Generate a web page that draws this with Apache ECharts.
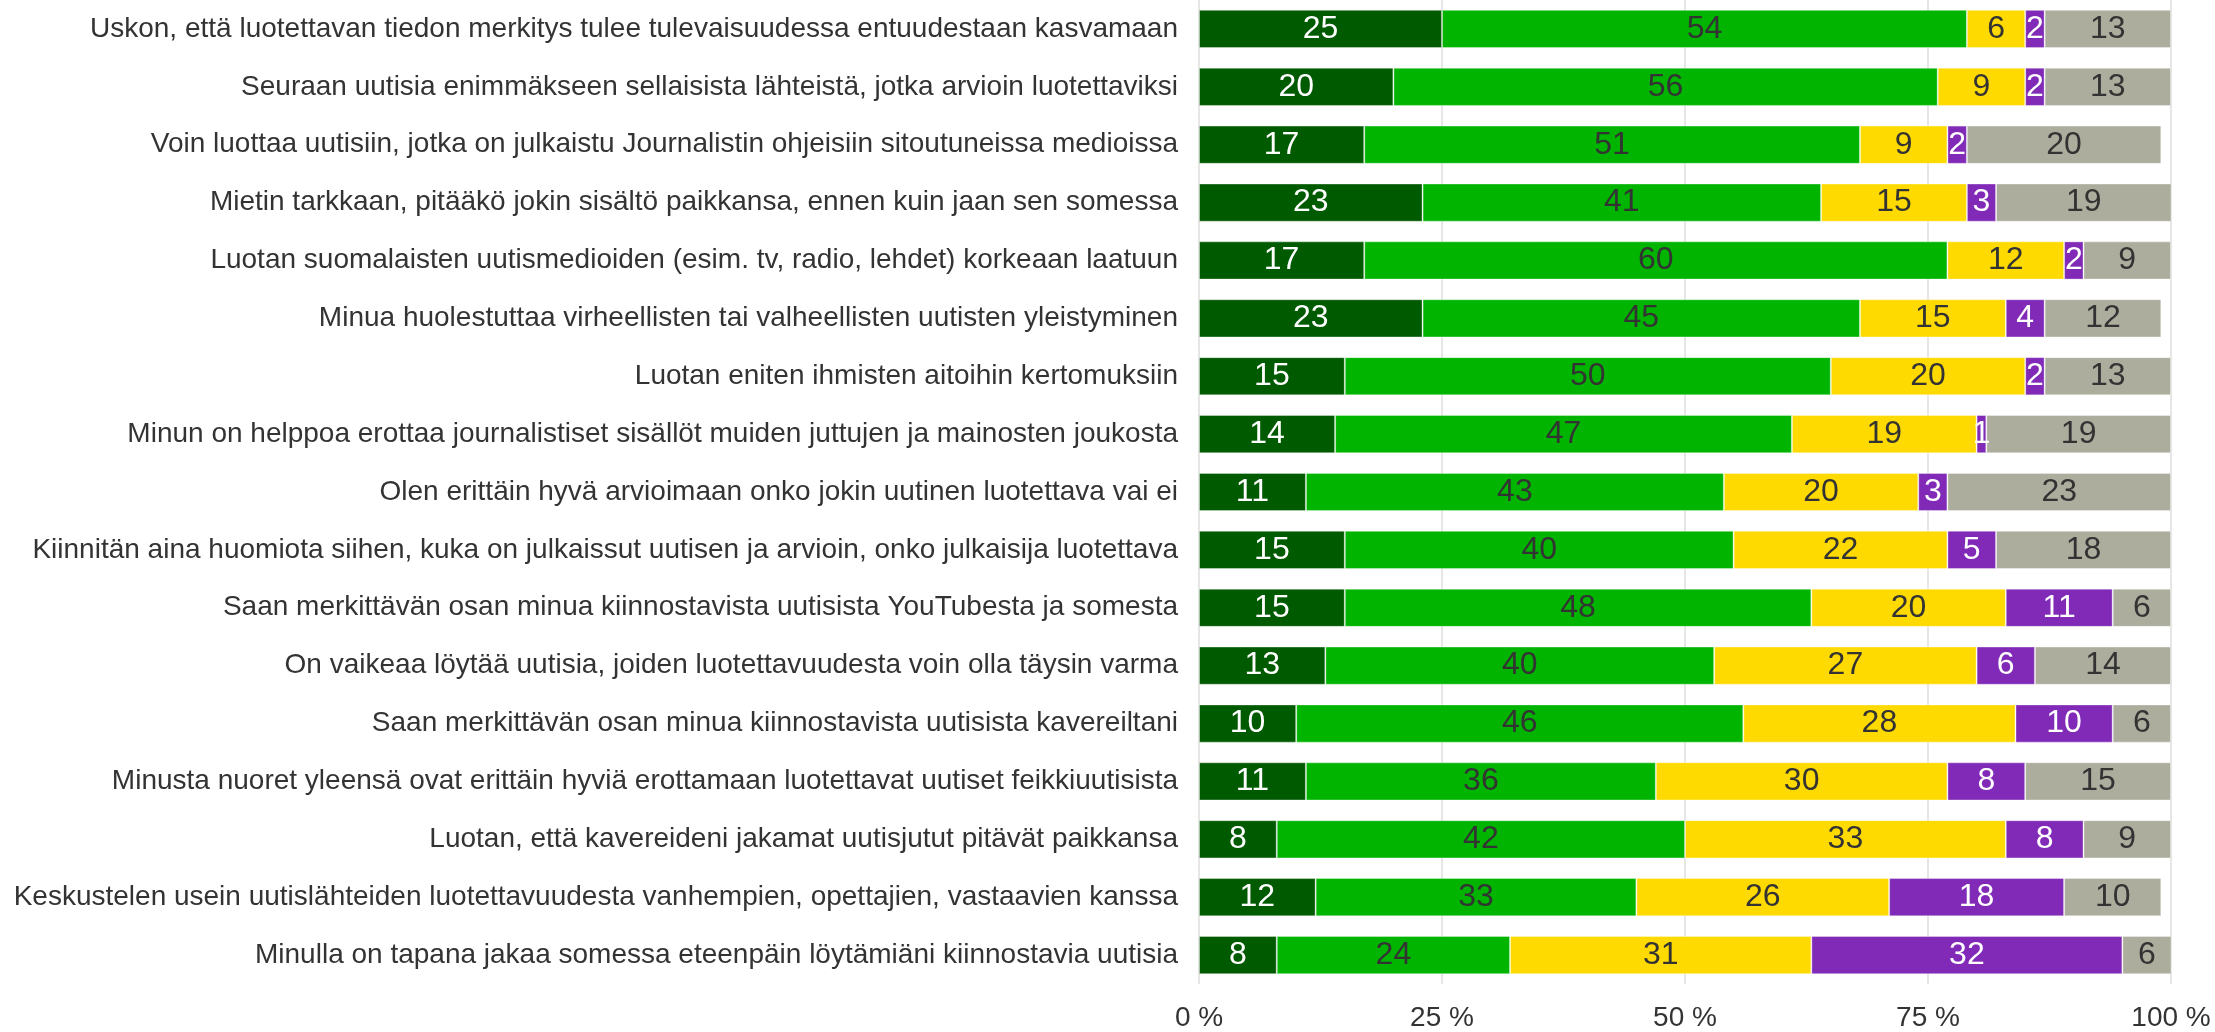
<!DOCTYPE html>
<html>
<head>
<meta charset="utf-8">
<script src="https://cdn.jsdelivr.net/npm/echarts@6/dist/echarts.min.js"></script>
<style>
  html, body { margin: 0; padding: 0; background: #fff; }
  #chart { width: 2215px; height: 1032px; }
</style>
</head>
<body>
<div id="chart"></div>
<script>
// Väittämät (ylhäältä alas)
const statements = [
  'Uskon, että luotettavan tiedon merkitys tulee tulevaisuudessa entuudestaan kasvamaan',
  'Seuraan uutisia enimmäkseen sellaisista lähteistä, jotka arvioin luotettaviksi',
  'Voin luottaa uutisiin, jotka on julkaistu Journalistin ohjeisiin sitoutuneissa medioissa',
  'Mietin tarkkaan, pitääkö jokin sisältö paikkansa, ennen kuin jaan sen somessa',
  'Luotan suomalaisten uutismedioiden (esim. tv, radio, lehdet) korkeaan laatuun',
  'Minua huolestuttaa virheellisten tai valheellisten uutisten yleistyminen',
  'Luotan eniten ihmisten aitoihin kertomuksiin',
  'Minun on helppoa erottaa journalistiset sisällöt muiden juttujen ja mainosten joukosta',
  'Olen erittäin hyvä arvioimaan onko jokin uutinen luotettava vai ei',
  'Kiinnitän aina huomiota siihen, kuka on julkaissut uutisen ja arvioin, onko julkaisija luotettava',
  'Saan merkittävän osan minua kiinnostavista uutisista YouTubesta ja somesta',
  'On vaikeaa löytää uutisia, joiden luotettavuudesta voin olla täysin varma',
  'Saan merkittävän osan minua kiinnostavista uutisista kavereiltani',
  'Minusta nuoret yleensä ovat erittäin hyviä erottamaan luotettavat uutiset feikkiuutisista',
  'Luotan, että kavereideni jakamat uutisjutut pitävät paikkansa',
  'Keskustelen usein uutislähteiden luotettavuudesta vanhempien, opettajien, vastaavien kanssa',
  'Minulla on tapana jakaa somessa eteenpäin löytämiäni kiinnostavia uutisia'
];

// Vastausjakaumat (%)
const stronglyAgree    = [25, 20, 17, 23, 17, 23, 15, 14, 11, 15, 15, 13, 10, 11,  8, 12,  8];
const somewhatAgree    = [54, 56, 51, 41, 60, 45, 50, 47, 43, 40, 48, 40, 46, 36, 42, 33, 24];
const somewhatDisagree = [ 6,  9,  9, 15, 12, 15, 20, 19, 20, 22, 20, 27, 28, 30, 33, 26, 31];
const stronglyDisagree = [ 2,  2,  2,  3,  2,  4,  2,  1,  3,  5, 11,  6, 10,  8,  8, 18, 32];
const cannotSay        = [13, 13, 20, 19,  9, 12, 13, 19, 23, 18,  6, 14,  6, 15,  9, 10,  6];

const xTicks = [0, 25, 50, 75, 100];

const FONT = '"Liberation Sans", Arial, sans-serif';

function segment(name, data, color, textColor) {
  return {
    name: name,
    type: 'bar',
    stack: 'total',
    data: data,
    barWidth: '66%',
    itemStyle: {
      color: color,
      borderColor: 'rgba(255,255,255,0.35)',
      borderWidth: 1
    },
    label: {
      show: true,
      position: 'inside',
      color: textColor,
      fontFamily: FONT,
      fontSize: 32,
      formatter: p => String(p.value)
    },
    emphasis: { disabled: true }
  };
}

const chart = echarts.init(document.getElementById('chart'), null, { renderer: 'canvas' });
chart.setOption({
  animation: false,
  backgroundColor: '#ffffff',
  grid: { left: 1199, right: 44, top: -4, bottom: 44.5, containLabel: false },
  xAxis: {
    type: 'value',
    min: xTicks[0],
    max: xTicks[xTicks.length - 1],
    interval: 25,
    axisLine: { show: false },
    axisTick: { show: false },
    axisLabel: {
      margin: 20,
      color: '#333333',
      fontFamily: FONT,
      fontSize: 28,
      formatter: v => v + ' %'
    },
    splitLine: { show: true, lineStyle: { color: '#dedede', width: 1.5 } }
  },
  yAxis: {
    type: 'category',
    inverse: true,
    data: statements,
    axisLine: { show: false },
    axisTick: { show: false },
    axisLabel: {
      margin: 21,
      color: '#333333',
      fontFamily: FONT,
      fontSize: 28
    },
    splitLine: { show: false }
  },
  series: [
    segment('Täysin samaa mieltä', stronglyAgree, '#005a00', '#ffffff'),
    segment('Jokseenkin samaa mieltä', somewhatAgree, '#00b400', '#333333'),
    segment('Jokseenkin eri mieltä', somewhatDisagree, '#ffda00', '#333333'),
    segment('Täysin eri mieltä', stronglyDisagree, '#802ab7', '#ffffff'),
    segment('En osaa sanoa', cannotSay, '#adad9e', '#333333')
  ]
});
</script>
</body>
</html>
